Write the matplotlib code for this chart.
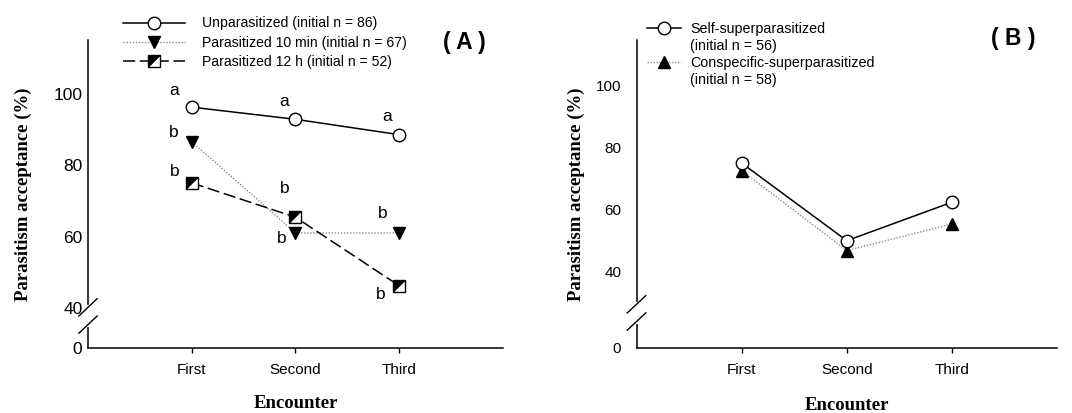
import numpy as np
import matplotlib
matplotlib.use("Agg")
import matplotlib.pyplot as plt
from matplotlib.legend_handler import HandlerTuple

plt.rcParams["font.family"] = ["Liberation Sans", "DejaVu Sans"]

# ---- data -------------------------------------------------------------
encounters = ["First", "Second", "Third"]

unparasitized = [96.2, 92.8, 88.5]
parasitized_10min = [86.5, 61.0, 61.0]
parasitized_12h = [75.0, 65.4, 46.2]
letters_unpar = ["a", "a", "a"]
letters_10min = ["b", "b", "b"]
letters_12h = ["b", "b", "b"]

self_super = [75.1, 50.1, 62.5]
consp_super = [72.7, 46.9, 55.5]

yticks_major = [40, 60, 80, 100]

# letter offsets (points) relative to each data point
off_unpar = [(-13, 12), (-8, 13), (-9, 13)]
off_10min = [(-13, 7), (-10, -4), (-12, 14)]
off_12h = [(-12, 8), (-8, 21), (-13, -6)]

# upper-left black triangle used for the half-filled square marker
half_tri = [(-1, -1), (-1, 1), (1, 1), (-1, -1)]


def style_axis(ax, floor, top, ytick_size):
    x = np.arange(1, len(encounters) + 1)
    ax.set_xlim(0, 4)
    ax.set_ylim(floor, top)
    ax.set_xticks(x)
    ax.set_xticklabels(encounters, fontsize=11)
    ax.set_yticks([floor] + yticks_major)
    ax.set_yticklabels(["0"] + [str(t) for t in yticks_major], fontsize=ytick_size)
    ax.tick_params(axis="x", length=3.5, width=1, pad=7, direction="out")
    ax.spines["top"].set_visible(False)
    ax.spines["right"].set_visible(False)
    for s in ("left", "bottom"):
        ax.spines[s].set_linewidth(1.1)
    ax.set_xlabel("Encounter", family="Liberation Serif", fontweight="bold", fontsize=13.5)
    ax.set_ylabel("Parasitism acceptance (%)", family="Liberation Serif",
                  fontweight="bold", fontsize=13.5, va="center")
    return x


def axis_break(ax, yc):
    # white gap on the y spine plus two slashes
    kw = dict(transform=ax.transAxes, clip_on=False, color="black", lw=1.0)
    ax.plot([0, 0], [yc - 0.03, yc + 0.03], color="white", lw=3,
            transform=ax.transAxes, clip_on=False, zorder=5)
    d = 0.022
    for c in (yc + 0.028, yc - 0.028):
        ax.plot([-d, d], [c - 0.028, c + 0.028], zorder=6, **kw)


fig = plt.figure(figsize=(10.72, 4.13), dpi=100)

# ---- panel A ----------------------------------------------------------
axA = fig.add_axes([0.0821, 0.1574, 0.3871, 0.7458])
x = style_axis(axA, 28.8, 115, 12.5)
axA.tick_params(axis="y", length=0, pad=4)
axA.xaxis.set_label_coords(0.5, -0.152)
axA.yaxis.set_label_coords(-0.157, 0.5)
axis_break(axA, 0.104)

lA1, = axA.plot(x, unparasitized, "-o", color="black", lw=1.1, ms=9,
                mfc="white", mec="black", mew=1.0, zorder=3)
lA2, = axA.plot(x, parasitized_10min, linestyle=(0, (1, 1.2)), color="#8c8c8c",
                lw=1.0, marker="v", ms=9, mfc="black", mec="black", zorder=3)
lA3, = axA.plot(x, parasitized_12h, linestyle=(0, (8, 3)), color="black",
                lw=1.1, marker="s", ms=8.5, mfc="white", mec="black", mew=1.0,
                zorder=3)
tA3, = axA.plot(x, parasitized_12h, linestyle="none", marker=half_tri, ms=8.0,
                mfc="black", mec="black", mew=0.3, zorder=4)

for vals, labs, offs in ((unparasitized, letters_unpar, off_unpar),
                         (parasitized_10min, letters_10min, off_10min),
                         (parasitized_12h, letters_12h, off_12h)):
    for xi, yi, lab, off in zip(x, vals, labs, offs):
        axA.annotate(lab, (xi, yi), xytext=off, textcoords="offset points",
                     ha="center", va="center", fontsize=12.5)

axA.legend([lA1, lA2, (lA3, tA3)],
           ["Unparasitized (initial n = 86)",
            "Parasitized 10 min (initial n = 67)",
            "Parasitized 12 h (initial n = 52)"],
           handler_map={tuple: HandlerTuple(ndivide=1, pad=0)},
           loc="upper left", bbox_to_anchor=(123 / 1072, 1 - 16.5 / 413),
           bbox_transform=fig.transFigure, frameon=False, fontsize=10.1,
           handlelength=4.4, handletextpad=1.2, labelspacing=0.38,
           borderpad=0, borderaxespad=0)
fig.text(464 / 1072, 1 - 43 / 413, "( A )", ha="center", va="center",
         fontsize=16.5, fontweight="bold")

# ---- panel B ----------------------------------------------------------
axB = fig.add_axes([0.5938, 0.1574, 0.3923, 0.7458])
x = style_axis(axB, 15.5, 114.8, 11)
axB.tick_params(axis="y", length=0, pad=11)
axB.xaxis.set_label_coords(0.5, -0.158)
axB.yaxis.set_label_coords(-0.142, 0.5)
axis_break(axB, 0.114)

lB1, = axB.plot(x, self_super, "-o", color="black", lw=1.1, ms=9,
                mfc="white", mec="black", mew=1.0, zorder=4)
lB2, = axB.plot(x, consp_super, linestyle=(0, (1, 1.2)), color="#8c8c8c",
                lw=1.0, marker="^", ms=9, mfc="black", mec="black", zorder=3)
blank = plt.Line2D([], [], linestyle="none")

axB.legend([lB1, blank, lB2, blank],
           ["Self-superparasitized", "(initial n = 56)",
            "Conspecific-superparasitized", "(initial n = 58)"],
           loc="upper left", bbox_to_anchor=(647 / 1072, 1 - 22 / 413),
           bbox_transform=fig.transFigure, frameon=False, fontsize=10.3,
           handlelength=2.4, handletextpad=0.6, labelspacing=0.22,
           borderpad=0, borderaxespad=0)
fig.text(1013 / 1072, 1 - 38 / 413, "( B )", ha="center", va="center",
         fontsize=16.5, fontweight="bold")

fig.savefig("out.png", dpi=100)
plt.close(fig)
